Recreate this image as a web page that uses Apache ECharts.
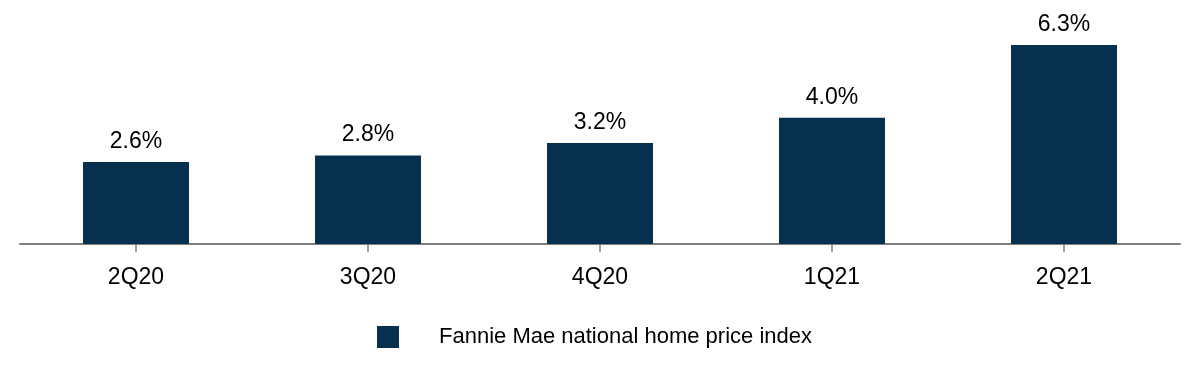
<!DOCTYPE html>
<html>
<head>
<meta charset="utf-8">
<script src="https://cdn.jsdelivr.net/npm/echarts@6/dist/echarts.min.js"></script>
<style>html,body{margin:0;padding:0;background:#fff;}#c{width:1200px;height:378px;}</style>
</head>
<body>
<div id="c"></div>
<script>
var categories = ['2Q20', '3Q20', '4Q20', '1Q21', '2Q21'];
var values = [2.6, 2.8, 3.2, 4.0, 6.3];
var seriesName = 'Fannie Mae national home price index';

var chart = echarts.init(document.getElementById('c'));
chart.setOption({
  animation: false,
  backgroundColor: '#ffffff',
  textStyle: { fontFamily: 'Liberation Sans, Arial, sans-serif' },
  grid: { left: 20, right: 20, top: 23, bottom: 134 },
  legend: {
    data: [seriesName],
    top: 321,
    left: 372,
    icon: 'rect',
    itemWidth: 22,
    itemHeight: 22,
    textStyle: { fontSize: 22, color: '#000', padding: [0, 0, 0, 35], fontFamily: 'Liberation Sans, Arial, sans-serif' }
  },
  xAxis: {
    type: 'category',
    data: categories,
    axisLine: { lineStyle: { color: '#808080', width: 2 } },
    axisTick: { show: true, alignWithLabel: true, length: 8, lineStyle: { color: '#808080', width: 1.5 } },
    axisLabel: { fontSize: 23, color: '#000', margin: 22, fontFamily: 'Liberation Sans, Arial, sans-serif' }
  },
  yAxis: {
    type: 'value',
    min: 0,
    max: 7,
    show: false,
    splitLine: { show: false }
  },
  series: [{
    name: seriesName,
    type: 'bar',
    data: values,
    barWidth: 106,
    itemStyle: { color: '#06304D' },
    label: {
      show: true,
      position: 'top',
      distance: 9,
      fontSize: 23,
      color: '#000',
      fontFamily: 'Liberation Sans, Arial, sans-serif',
      formatter: function (p) { return p.value.toFixed(1) + '%'; }
    }
  }]
});
</script>
</body>
</html>
